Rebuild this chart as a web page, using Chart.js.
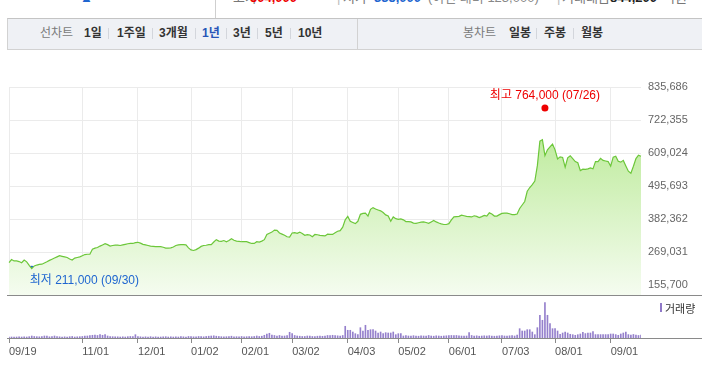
<!DOCTYPE html>
<html><head><meta charset="utf-8">
<script src="https://cdn.jsdelivr.net/npm/chart.js@4.4.0/dist/chart.umd.min.js"></script>
<style>
html,body{margin:0;padding:0;background:#fff;width:702px;height:375px;overflow:hidden;font-family:"Liberation Sans","Noto Sans CJK KR",sans-serif;}
.a{position:absolute;white-space:nowrap;line-height:14px;}
#hdrLine{position:absolute;left:215px;top:0;width:1px;height:18px;background:#cfcfcf;}
#tabbar{position:absolute;left:7px;top:18px;width:720px;height:30px;background:#eff1f5;border-top:1px solid #c4c4c4;border-bottom:1px solid #d2d2d2;border-left:1px solid #d2d2d2;}
#tabdiv{position:absolute;left:357px;top:19px;width:1px;height:30px;background:#d2d2d2;}
.sep{position:absolute;top:28px;width:1px;height:11px;background:#d3d6dc;}
.lab{font-size:12px;color:#7a7a7a;top:26px;}
.itm{font-size:12px;color:#333;font-weight:bold;top:26px;}
.cut{font-size:13px;top:-9px;}
#pw{position:absolute;left:0;top:70px;width:702px;height:240px;}
#vw{position:absolute;left:0;top:296px;width:702px;height:64px;}
#leg{position:absolute;left:660px;top:302px;font-size:11px;color:#333;}
#legbar{position:absolute;left:660px;top:303px;width:2px;height:9px;background:#8f78c8;}
</style></head>
<body>
<div class="a cut" style="left:80px;color:#1f66d0;font-weight:bold;">▲</div>
<div id="hdrLine"></div>
<div class="a cut" style="left:233px;color:#777;">고가</div>
<div class="a cut" style="left:250px;color:#e00;font-weight:bold;">504,000</div>
<div class="a cut" style="left:337px;color:#bbb;">|</div>
<div class="a cut" style="left:343px;color:#777;">저가</div>
<div class="a cut" style="left:374px;color:#1f66d0;font-weight:bold;">335,000</div>
<div class="a cut" style="left:428px;color:#888;">(이전 대비 123,000)</div>
<div class="a cut" style="left:557px;color:#bbb;">|</div>
<div class="a cut" style="left:562px;color:#777;">거래대금</div>
<div class="a cut" style="left:610px;color:#222;font-weight:bold;">844,200</div>
<div class="a cut" style="left:663px;color:#777;">억원</div>
<div id="tabbar"></div>
<div id="tabdiv"></div>
<div class="a lab" style="left:40px;">선차트</div>
<div class="a itm" style="left:84px;">1일</div>
<div class="sep" style="left:108px;"></div>
<div class="a itm" style="left:117px;">1주일</div>
<div class="sep" style="left:152px;"></div>
<div class="a itm" style="left:159px;">3개월</div>
<div class="sep" style="left:195px;"></div>
<div class="a itm" style="left:202px;color:#2755b8;">1년</div>
<div class="sep" style="left:226px;"></div>
<div class="a itm" style="left:233px;">3년</div>
<div class="sep" style="left:257px;"></div>
<div class="a itm" style="left:265px;">5년</div>
<div class="sep" style="left:290px;"></div>
<div class="a itm" style="left:298px;">10년</div>
<div class="a lab" style="left:463px;">봉차트</div>
<div class="a itm" style="left:509px;">일봉</div>
<div class="sep" style="left:536px;"></div>
<div class="a itm" style="left:544px;">주봉</div>
<div class="sep" style="left:573px;"></div>
<div class="a itm" style="left:581px;">월봉</div>

<div id="pw"><canvas id="pc" width="702" height="240"></canvas></div>
<div id="vw"><canvas id="vc" width="702" height="64"></canvas></div>
<div id="legbar"></div>
<div class="a" id="leg" style="left:665px;">거래량</div>

<script>
// trading days (MM) and day numbers, 2022-09-19 .. 2023-09-19
const months = ['09','10','11','12','01','02','03','04','05','06','07','08','09'];
const monthDays = [
 [19,20,21,22,23,26,27,28,29,30],
 [4,5,6,7,11,12,13,14,17,18,19,20,21,24,25,26,27,28,31],
 [1,2,3,4,7,8,9,10,11,14,15,16,17,18,21,22,23,24,25,28,29,30],
 [1,2,5,6,7,8,9,12,13,14,15,16,19,20,21,22,23,26,27,28,29],
 [2,3,4,5,6,9,10,11,12,13,16,17,18,19,20,25,26,27,30,31],
 [1,2,3,6,7,8,9,10,13,14,15,16,17,20,21,22,23,24,27,28],
 [2,3,6,7,8,9,10,13,14,15,16,17,20,21,22,23,24,27,28,29,30,31],
 [3,4,5,6,7,10,11,12,13,14,17,18,19,20,21,24,25,26,27,28],
 [2,3,4,8,9,10,11,12,15,16,17,18,19,22,23,24,25,26,30,31],
 [1,2,5,7,8,9,12,13,14,15,16,19,20,21,22,23,26,27,28,29,30],
 [3,4,5,6,7,10,11,12,13,14,17,18,19,20,21,24,25,26,27,28,31],
 [1,2,3,4,7,8,9,10,11,14,16,17,18,21,22,23,24,25,28,29,30,31],
 [1,4,5,6,7,8,11,12,13,14,15,18,19]
];
// closing prices (won)
const closes = [
233000,244000,239000,239000,237000,233000,242000,236000,224000,213000,
222000,225000,227000,228000,232000,236000,241000,245000,249000,253000,
257000,255000,253000,251000,246000,242000,249000,251000,253000,257000,
261000,262000,262000,279000,283000,285000,290000,294000,298000,295000,
290000,292000,293000,293000,292000,294000,296000,298000,299000,299000,
302000,303000,300000,296000,294000,292000,290000,289000,288000,288000,
288000,286000,283000,283000,284000,287000,292000,294000,295000,295000,
294000,284000,277000,275000,278000,283000,289000,292000,293000,295000,
295000,304000,312000,307000,306000,309000,305000,309000,315000,310000,
307000,306000,305000,305000,305000,302000,299000,299000,305000,304000,
307000,312000,330000,334000,338000,345000,344000,335000,331000,327000,
322000,321000,335000,336000,334000,338000,333000,327000,329000,328000,
322000,330000,329000,327000,326000,325000,331000,330000,330000,336000,
341000,343000,355000,380000,392000,375000,371000,367000,375000,399000,
402000,403000,393000,416000,422000,417000,414000,411000,405000,397000,
393000,375000,390000,384000,382000,383000,380000,374000,374000,373000,
369000,368000,370000,372000,373000,371000,368000,373000,378000,373000,
369000,366000,364000,364000,367000,380000,390000,391000,392000,396000,
394000,392000,391000,390000,394000,392000,388000,391000,395000,393000,
404000,400000,393000,393000,398000,402000,403000,403000,401000,398000,
398000,400000,419000,431000,443000,478000,491000,501000,513000,566000,
650000,655000,600000,620000,630000,640000,620000,589000,596000,594000,
561000,593000,600000,590000,580000,576000,549000,554000,553000,555000,
558000,555000,580000,580000,591000,584000,582000,580000,564000,595000,
598000,581000,578000,584000,565000,547000,540000,564000,590000,602000,598000
];
// volume (10,000 shares)
const volumes = [
25,25,25,25,30,25,30,25,33,50,
38,33,30,38,50,45,30,38,50,33,
30,25,30,25,33,38,25,30,33,38,
50,50,63,68,75,63,83,68,83,50,
38,33,30,30,25,30,25,33,38,33,
83,38,30,25,30,25,33,25,30,25,
25,30,33,25,30,25,30,25,33,30,
25,38,33,30,30,38,33,30,38,45,
50,55,45,38,33,30,33,38,45,30,
33,30,38,30,33,38,33,38,50,38,
45,68,100,118,75,63,50,63,50,50,
63,143,108,63,50,45,38,38,50,45,
38,38,45,50,43,50,63,63,68,63,
55,50,63,293,193,193,150,108,83,258,
175,318,193,208,208,175,125,150,108,133,
125,125,150,83,108,108,50,63,50,45,
58,50,45,55,50,45,63,50,45,55,
50,45,50,55,63,63,58,63,55,50,
50,50,133,63,50,55,45,50,55,50,
58,50,45,50,55,58,50,45,55,63,
50,75,233,175,175,208,208,150,83,258,
568,443,883,568,358,233,233,175,93,125,
150,125,93,83,68,83,100,143,110,125,
125,160,85,85,85,85,85,85,100,100,
85,68,100,125,150,85,75,88,75,63,75
];
const xTickLabels = ['09/19','11/01','12/01','01/02','02/01','03/02','04/03','05/02','06/01','07/03','08/01','09/01'];
const yTickLabels = [155700,269031,382362,495693,609024,722355,835686];
const lowMark = {date:'09/30', value:211000, text:'최저 211,000 (09/30)'};
const highMark = {date:'07/26', value:764000, text:'최고 764,000 (07/26)'};

const labels = [];
months.forEach((m,i)=>monthDays[i].forEach(d=>labels.push(m+'/'+String(d).padStart(2,'0'))));
const xTickIdx = xTickLabels.map(l=>labels.indexOf(l));
const yStep = yTickLabels[1]-yTickLabels[0];
const yMin = yTickLabels[0] - yStep*0.295;
const yMax = yTickLabels[yTickLabels.length-1];
const FONT = '"Liberation Sans","Noto Sans CJK KR",sans-serif';

const fullLine = {id:'fullLine', afterDraw(chart){
  const {ctx, chartArea} = chart; ctx.save(); ctx.fillStyle='#8a8a8a';
  ctx.fillRect(7, Math.round(chartArea.bottom), chart.width-7, 1); ctx.restore();
}};
const markText = {id:'markText', afterDatasetsDraw(chart){
  const meta = chart.getDatasetMeta(1); const ctx = chart.ctx; ctx.save();
  ctx.font = '12px '+FONT;
  const lo = meta.data[0], hi = meta.data[1];
  ctx.fillStyle='#1f66d0'; ctx.textAlign='left'; ctx.textBaseline='middle';
  ctx.fillText(lowMark.text, lo.x-2, lo.y+12);
  ctx.fillStyle='#ee0000'; ctx.textAlign='center';
  ctx.fillText(highMark.text, hi.x, hi.y-12);
  ctx.restore();
}};

new Chart(document.getElementById('pc'), {
  type:'line',
  data:{labels, datasets:[
    {data:closes, borderColor:'#6cc73a', borderWidth:1.2, pointRadius:0, tension:0, fill:'start',
     backgroundColor:(c)=>{const ca=c.chart.chartArea; if(!ca) return 'rgba(0,0,0,0)';
       const g=c.chart.ctx.createLinearGradient(0,ca.top,0,ca.bottom); g.addColorStop(0,'#aee684'); g.addColorStop(1,'#f5fcf0'); return g;}},
    {data:[{x:lowMark.date, y:lowMark.value},{x:highMark.date, y:highMark.value}],
     showLine:false, pointRadius:3.5, pointHoverRadius:3.5, borderWidth:0,
     pointBackgroundColor:['#1f66d0','#ee0000'], pointBorderColor:['#1f66d0','#ee0000']}
  ]},
  options:{responsive:false, animation:false, devicePixelRatio:1,
    layout:{padding:{left:9, right:0, top:17, bottom:15}},
    plugins:{legend:{display:false}, tooltip:{enabled:false}},
    scales:{
      x:{type:'category', offset:false, border:{display:false},
         afterBuildTicks:s=>{s.ticks = xTickIdx.map(v=>({value:v}));},
         ticks:{display:false, autoSkip:false}, grid:{color:'#ebebeb', drawTicks:false, offset:false}},
      y:{position:'right', min:yMin, max:yMax, border:{display:false},
         afterBuildTicks:s=>{s.ticks = yTickLabels.map(v=>({value:v}));},
         afterFit:s=>{s.width=61;},
         ticks:{padding:7, color:'#666', font:{family:FONT, size:11}, callback:v=>v.toLocaleString('en-US')},
         grid:{color:'#ebebeb', drawTicks:false}}
    }},
  plugins:[fullLine, markText]
});

new Chart(document.getElementById('vc'), {
  type:'bar',
  data:{labels, datasets:[{data:volumes, backgroundColor:'#9580cc', barThickness:1}]},
  options:{responsive:false, animation:false, devicePixelRatio:1,
    layout:{padding:{left:9, right:61, top:1, bottom:0}},
    plugins:{legend:{display:false}, tooltip:{enabled:false}},
    scales:{
      x:{type:'category', offset:false, border:{display:false},
         afterBuildTicks:s=>{s.ticks = xTickIdx.map(v=>({value:v}));},
         afterFit:s=>{s.height=22;},
         ticks:{autoSkip:false, maxRotation:0, align:'start', padding:2, color:'#555', font:{family:FONT, size:11}},
         grid:{display:true, drawOnChartArea:false, drawTicks:true, tickLength:5, color:'#8a8a8a', offset:false}},
      y:{display:false, min:0, max:1025}
    }},
  plugins:[fullLine]
});
</script>
</body></html>
